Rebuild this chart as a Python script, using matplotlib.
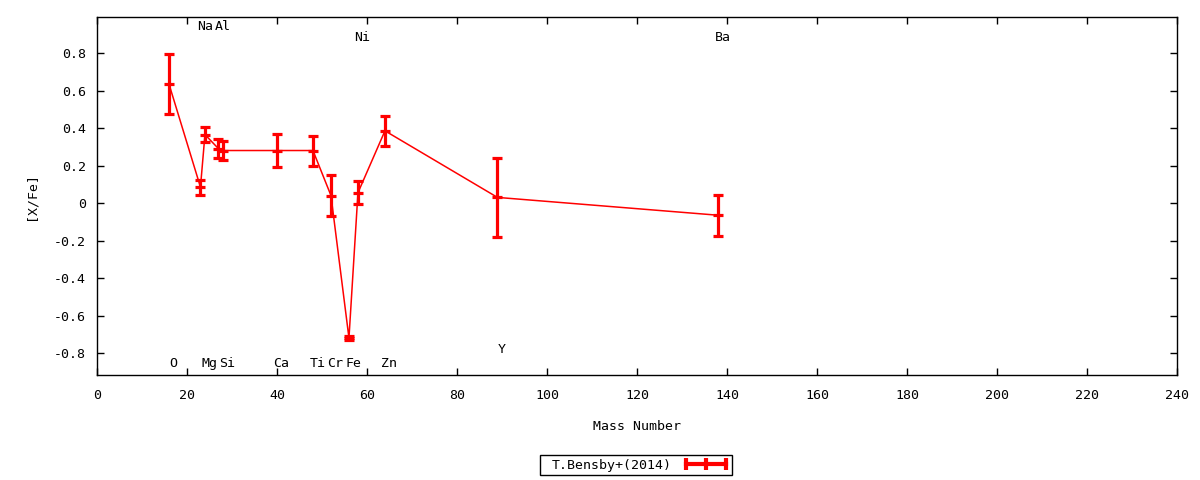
import numpy as np
import matplotlib
matplotlib.use('Agg')
import matplotlib.pyplot as plt
from matplotlib.lines import Line2D
from matplotlib.patches import Rectangle
from matplotlib.ticker import FuncFormatter, MultipleLocator

# Dados
elements = ['O', 'Na', 'Mg', 'Al', 'Si', 'Ca', 'Ti', 'Cr', 'Fe', 'Ni', 'Zn', 'Y', 'Ba']
mass = [16, 23, 24, 27, 28, 40, 48, 52, 56, 58, 64, 89, 138]
xfe = [0.635, 0.085, 0.365, 0.29, 0.28, 0.28, 0.28, 0.04, -0.72, 0.055, 0.385, 0.03, -0.065]
err = [0.16, 0.04, 0.04, 0.05, 0.05, 0.09, 0.08, 0.11, 0.01, 0.06, 0.08, 0.21, 0.11]
label_y = [-0.855, 0.94, -0.855, 0.94, -0.855, -0.855, -0.855, -0.855, -0.855,
           0.885, -0.855, -0.78, 0.885]

plt.rcParams['font.family'] = ['DejaVu Sans Mono']
plt.rcParams['font.size'] = 9

fig = plt.figure(figsize=(12, 4.8), dpi=100)
ax = fig.add_axes([0.0808, 0.21875, 0.9, 0.74585])

ax.plot(mass, xfe, color='red', lw=1.1, zorder=2)
ax.errorbar(mass, xfe, yerr=err, fmt='none', ecolor='red', elinewidth=2.3,
            capsize=3.5, capthick=2.3, zorder=3)
ax.plot(mass, xfe, ls='none', marker='_', ms=7.5, mew=2.3, color='red', zorder=3)

for el, m, ly in zip(elements, mass, label_y):
    ax.text(m + 1, ly, el, ha='center', va='center', fontsize=9.5)

ax.set_xlim(0, 240)
ax.set_ylim(-0.917, 0.992)
ax.xaxis.set_major_locator(MultipleLocator(20))
ax.yaxis.set_major_locator(MultipleLocator(0.2))
ax.yaxis.set_major_formatter(FuncFormatter(lambda v, p: '0' if abs(v) < 1e-9 else f'{v:g}'))
ax.tick_params(direction='in', top=True, right=True, length=5, width=1, labelsize=9.5)
ax.tick_params(axis='x', pad=10)
ax.tick_params(axis='y', pad=8)
for s in ax.spines.values():
    s.set_linewidth(1)

ax.set_xlabel('Mass Number', fontsize=9.5, labelpad=13)
ax.set_ylabel('[X/Fe]', fontsize=9.5, labelpad=12)

# caixa da legenda
fig.patches.append(Rectangle((540 / 1200, 1 - 475 / 480), 192 / 1200, 20 / 480,
                             transform=fig.transFigure, fill=False, edgecolor='black', lw=1))
handle = Line2D([], [], color='red', lw=3, marker='|', ms=8, mew=3)
fig.legend([handle], ['T.Bensby+(2014)'], loc='center', bbox_to_anchor=(641 / 1200, 1 - 465 / 480),
           markerfirst=False, numpoints=3, frameon=False, fontsize=9.5, handlelength=3.6,
           borderpad=0.1, handletextpad=0.8, borderaxespad=0)

fig.savefig('out.png', dpi=100)
